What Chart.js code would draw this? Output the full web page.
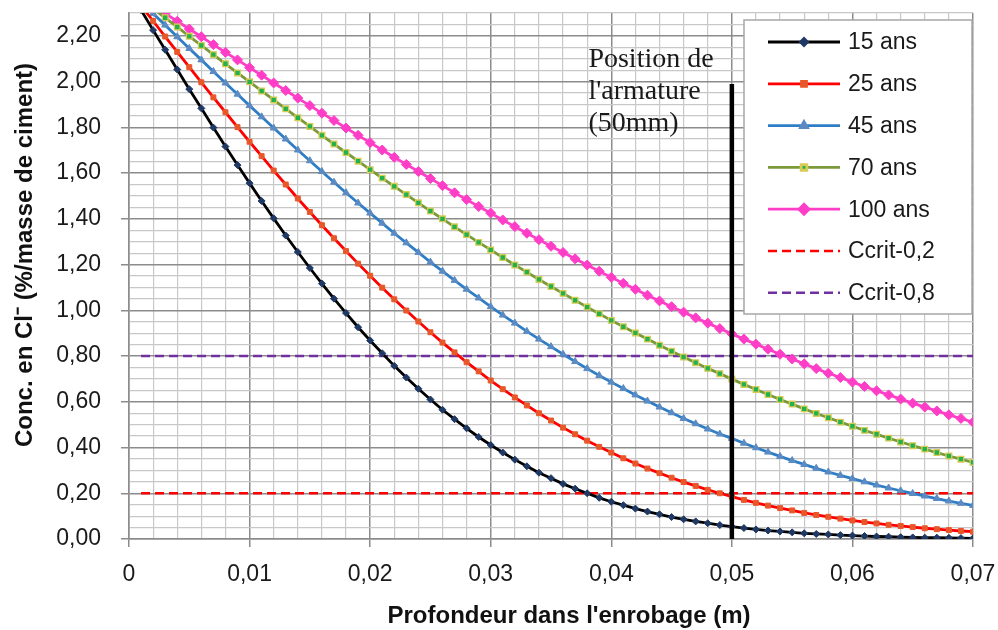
<!DOCTYPE html>
<html>
<head>
<meta charset="utf-8">
<script src="https://cdn.jsdelivr.net/npm/chart.js@4.4.0/dist/chart.umd.min.js"></script>
<style>
html, body { margin: 0; padding: 0; background: #fff; }
#wrap { width: 998px; height: 630px; }
</style>
</head>
<body>
<div id="wrap"><canvas id="myChart" width="998" height="630"></canvas></div>
<script>
// profondeur (m)
var depth = [
  0.000, 0.001, 0.002, 0.003, 0.004, 0.005, 0.006, 0.007, 0.008, 0.009,
  0.010, 0.011, 0.012, 0.013, 0.014, 0.015, 0.016, 0.017, 0.018, 0.019,
  0.020, 0.021, 0.022, 0.023, 0.024, 0.025, 0.026, 0.027, 0.028, 0.029,
  0.030, 0.031, 0.032, 0.033, 0.034, 0.035, 0.036, 0.037, 0.038, 0.039,
  0.040, 0.041, 0.042, 0.043, 0.044, 0.045, 0.046, 0.047, 0.048, 0.049,
  0.050, 0.051, 0.052, 0.053, 0.054, 0.055, 0.056, 0.057, 0.058, 0.059,
  0.060, 0.061, 0.062, 0.063, 0.064, 0.065, 0.066, 0.067, 0.068, 0.069,
  0.070
];

var c15 = [
  2.400, 2.313, 2.225, 2.139, 2.053, 1.967, 1.883, 1.799, 1.716, 1.635,
  1.556, 1.478, 1.402, 1.327, 1.255, 1.185, 1.117, 1.051, 0.988, 0.926,
  0.868, 0.812, 0.757, 0.706, 0.657, 0.610, 0.565, 0.524, 0.484, 0.446,
  0.411, 0.378, 0.347, 0.318, 0.290, 0.266, 0.241, 0.220, 0.200, 0.180,
  0.163, 0.148, 0.133, 0.120, 0.108, 0.096, 0.086, 0.077, 0.069, 0.061,
  0.054, 0.048, 0.042, 0.037, 0.033, 0.029, 0.025, 0.022, 0.020, 0.017,
  0.015, 0.013, 0.011, 0.010, 0.008, 0.007, 0.006, 0.006, 0.005, 0.004,
  0.003
];
var c25 = [
  2.400, 2.332, 2.265, 2.197, 2.130, 2.063, 1.997, 1.931, 1.866, 1.801,
  1.737, 1.674, 1.611, 1.550, 1.489, 1.430, 1.372, 1.315, 1.259, 1.204,
  1.151, 1.099, 1.048, 0.999, 0.951, 0.904, 0.859, 0.816, 0.773, 0.733,
  0.693, 0.655, 0.619, 0.584, 0.550, 0.518, 0.487, 0.458, 0.430, 0.403,
  0.378, 0.353, 0.330, 0.308, 0.288, 0.268, 0.249, 0.232, 0.215, 0.200,
  0.185, 0.171, 0.158, 0.146, 0.135, 0.125, 0.114, 0.105, 0.097, 0.089,
  0.081, 0.074, 0.068, 0.062, 0.057, 0.052, 0.047, 0.043, 0.039, 0.035,
  0.032
];
var c45 = [
  2.400, 2.349, 2.298, 2.247, 2.196, 2.145, 2.095, 2.044, 1.994, 1.945,
  1.895, 1.846, 1.797, 1.749, 1.701, 1.654, 1.607, 1.560, 1.514, 1.469,
  1.425, 1.381, 1.337, 1.295, 1.253, 1.211, 1.171, 1.131, 1.092, 1.054,
  1.016, 0.979, 0.944, 0.908, 0.874, 0.841, 0.808, 0.776, 0.745, 0.715,
  0.686, 0.658, 0.630, 0.603, 0.577, 0.552, 0.527, 0.504, 0.481, 0.459,
  0.440, 0.419, 0.399, 0.380, 0.361, 0.343, 0.326, 0.309, 0.293, 0.278,
  0.264, 0.250, 0.236, 0.223, 0.211, 0.199, 0.188, 0.177, 0.166, 0.156,
  0.147
];
var c70 = [
  2.400, 2.360, 2.319, 2.279, 2.239, 2.198, 2.158, 2.118, 2.078, 2.038,
  1.999, 1.959, 1.920, 1.881, 1.842, 1.804, 1.765, 1.727, 1.690, 1.652,
  1.615, 1.578, 1.542, 1.506, 1.470, 1.434, 1.400, 1.365, 1.331, 1.297,
  1.264, 1.231, 1.198, 1.167, 1.135, 1.104, 1.074, 1.044, 1.014, 0.985,
  0.956, 0.928, 0.901, 0.874, 0.847, 0.821, 0.796, 0.771, 0.746, 0.723,
  0.699, 0.676, 0.654, 0.632, 0.610, 0.590, 0.569, 0.549, 0.530, 0.511,
  0.493, 0.475, 0.458, 0.441, 0.424, 0.408, 0.393, 0.378, 0.363, 0.349,
  0.335
];
var c100 = [
  2.400, 2.366, 2.332, 2.298, 2.264, 2.230, 2.196, 2.162, 2.128, 2.095,
  2.061, 2.028, 1.994, 1.961, 1.928, 1.895, 1.862, 1.830, 1.797, 1.765,
  1.733, 1.701, 1.669, 1.638, 1.607, 1.576, 1.545, 1.514, 1.484, 1.454,
  1.425, 1.395, 1.366, 1.337, 1.309, 1.280, 1.253, 1.225, 1.198, 1.171,
  1.144, 1.118, 1.092, 1.066, 1.041, 1.016, 0.992, 0.967, 0.944, 0.920,
  0.897, 0.874, 0.852, 0.830, 0.808, 0.787, 0.766, 0.745, 0.725, 0.706,
  0.686, 0.667, 0.648, 0.630, 0.612, 0.594, 0.577, 0.560, 0.543, 0.527,
  0.511
];

// seuils critiques
var critX = [0.001, 0.07];
var crit02 = [0.2, 0.2];
var crit08 = [0.8, 0.8];

// position de l'armature
var rebarX = [0.05, 0.05];
var rebarY = [0, 1.99];

var annotLines = ['Position de', "l'armature", '(50mm)'];

function pts(xs, ys) {
  return xs.map(function(x, i) { return {x: x, y: ys[i]}; });
}
function isMult(v, step) {
  var r = v / step;
  return Math.abs(r - Math.round(r)) < 1e-6;
}
function frNum(v, d) {
  return v.toFixed(d).replace('.', ',');
}

var legendBox = {
  id: 'legendBox',
  afterDatasetsDraw: function(chart) {
    var ctx = chart.ctx, a = chart.chartArea;
    var w = 228, h = 294;
    var left = a.right - w - 1, top = a.top + 7;
    ctx.save();
    ctx.fillStyle = '#ffffff';
    ctx.fillRect(left, top, w, h);
    ctx.strokeStyle = '#a6a6a6';
    ctx.lineWidth = 1.5;
    ctx.strokeRect(left, top, w, h);
    var row = 0;
    chart.data.datasets.forEach(function(ds) {
      if (ds.inLegend === false) return;
      var y = top + 22 + row * 41.8;
      ctx.setLineDash(ds.borderDash || []);
      ctx.strokeStyle = ds.borderColor;
      ctx.lineWidth = ds.borderWidth;
      ctx.beginPath();
      ctx.moveTo(left + 24, y);
      ctx.lineTo(left + 96, y);
      ctx.stroke();
      ctx.setLineDash([]);
      if (ds.pointRadius > 0) {
        ctx.fillStyle = ds.pointBackgroundColor;
        ctx.strokeStyle = ds.pointBorderColor;
        Chart.helpers.drawPoint(ctx, {
          pointStyle: ds.pointStyle, radius: ds.pointRadius,
          borderWidth: ds.pointBorderWidth, rotation: 0
        }, left + 60, y);
      }
      ctx.fillStyle = '#1a1a1a';
      ctx.font = '23px "Liberation Sans"';
      ctx.textAlign = 'left';
      ctx.textBaseline = 'middle';
      ctx.fillText(ds.label, left + 104, y + 1);
      row++;
    });
    ctx.restore();
  }
};

var textBits = {
  id: 'textBits',
  afterDraw: function(chart) {
    var ctx = chart.ctx, xs = chart.scales.x, ys = chart.scales.y;
    ctx.save();
    // annotation
    ctx.fillStyle = '#1a1a1a';
    ctx.font = '28px "Liberation Serif"';
    ctx.textAlign = 'left';
    ctx.textBaseline = 'alphabetic';
    var ax = xs.getPixelForValue(0.0381);
    var ay = ys.getPixelForValue(2.065);
    annotLines.forEach(function(t, i) {
      ctx.fillText(t, ax, ay + i * 32);
    });
    // axis titles
    ctx.fillStyle = '#111';
    ctx.font = 'bold 24px "Liberation Sans"';
    ctx.textAlign = 'center';
    ctx.fillText("Profondeur dans l'enrobage (m)", 569, 623);
    ctx.translate(32, 255);
    ctx.rotate(-Math.PI / 2);
    ctx.fillText('Conc. en Cl\u207B (%/masse de ciment)', 0, 0);
    ctx.restore();
  }
};

var ctx = document.getElementById('myChart').getContext('2d');
var myChart = new Chart(ctx, {
  type: 'line',
  data: {
    datasets: [
      {
        label: 'rebar', inLegend: false, order: 0,
        data: pts(rebarX, rebarY),
        borderColor: '#000000', borderWidth: 4.5, pointRadius: 0
      },
      {
        label: '15 ans', order: 1,
        data: pts(depth, c15),
        borderColor: '#000000', borderWidth: 2.8,
        pointStyle: 'rectRot', pointRadius: 3.5,
        pointBackgroundColor: '#1F3864', pointBorderColor: '#1F3864', pointBorderWidth: 1
      },
      {
        label: '25 ans', order: 1,
        data: pts(depth, c25),
        borderColor: '#FF0000', borderWidth: 2.8,
        pointStyle: 'rect', pointRadius: 3.5,
        pointBackgroundColor: '#E8572A', pointBorderColor: '#E8572A', pointBorderWidth: 1
      },
      {
        label: '45 ans', order: 1,
        data: pts(depth, c45),
        borderColor: '#2F7DC4', borderWidth: 2.8,
        pointStyle: 'triangle', pointRadius: 4,
        pointBackgroundColor: '#5B8BC2', pointBorderColor: '#5B8BC2', pointBorderWidth: 1
      },
      {
        label: '70 ans', order: 1,
        data: pts(depth, c70),
        borderColor: '#7A9A3A', borderWidth: 2.8,
        pointStyle: 'rect', pointRadius: 4,
        pointBackgroundColor: '#22B14C', pointBorderColor: '#D9CC55', pointBorderWidth: 1.3
      },
      {
        label: '100 ans', order: 1,
        data: pts(depth, c100),
        borderColor: '#FF3EC8', borderWidth: 2.8,
        pointStyle: 'rectRot', pointRadius: 5,
        pointBackgroundColor: '#FF3EC8', pointBorderColor: '#FF3EC8', pointBorderWidth: 1
      },
      {
        label: 'Ccrit-0,2', order: 2,
        data: pts(critX, crit02),
        borderColor: '#FF0000', borderWidth: 2.5, borderDash: [9, 5], pointRadius: 0
      },
      {
        label: 'Ccrit-0,8', order: 2,
        data: pts(critX, crit08),
        borderColor: '#7030A0', borderWidth: 2.5, borderDash: [9, 5], pointRadius: 0
      }
    ]
  },
  options: {
    responsive: false,
    animation: false,
    events: [],
    layout: { padding: { left: 0, top: 13, right: 25, bottom: 0 } },
    elements: { line: { tension: 0 } },
    plugins: {
      legend: { display: false },
      tooltip: { enabled: false }
    },
    scales: {
      x: {
        type: 'linear',
        min: 0, max: 0.07,
        afterFit: function(s) { s.height = 91; s.paddingLeft = 0; s.paddingRight = 0; },
        border: { color: '#8c8c8c', width: 1.5 },
        grid: {
          color: function(c) { return isMult(c.tick.value, 0.01) ? '#8c8c8c' : '#c8c8c8'; },
          lineWidth: function(c) { return isMult(c.tick.value, 0.01) ? 1.5 : 1.2; },
          tickColor: function(c) { return isMult(c.tick.value, 0.01) ? '#8c8c8c' : 'rgba(0,0,0,0)'; },
          tickLength: 8
        },
        ticks: {
          stepSize: 0.002,
          autoSkip: false,
          maxRotation: 0,
          padding: 14,
          color: '#1a1a1a',
          font: { family: 'Liberation Sans', size: 23 },
          callback: function(v) {
            if (!isMult(v, 0.01)) return '';
            return v === 0 ? '0' : frNum(v, 2);
          }
        }
      },
      y: {
        min: 0, max: 2.3,
        afterFit: function(s) { s.width = 129; s.paddingTop = 0; s.paddingBottom = 0; },
        border: { color: '#8c8c8c', width: 1.5 },
        grid: {
          color: function(c) { return isMult(c.tick.value, 0.2) ? '#8c8c8c' : '#c8c8c8'; },
          lineWidth: function(c) { return isMult(c.tick.value, 0.2) ? 1.5 : 1.2; },
          tickColor: function(c) { return isMult(c.tick.value, 0.2) ? '#8c8c8c' : 'rgba(0,0,0,0)'; },
          tickLength: 8
        },
        ticks: {
          stepSize: 0.05,
          autoSkip: false,
          padding: 20,
          color: '#1a1a1a',
          font: { family: 'Liberation Sans', size: 23 },
          callback: function(v) {
            return isMult(v, 0.2) ? frNum(v, 2) : '';
          }
        }
      }
    }
  },
  plugins: [legendBox, textBits]
});
</script>
</body>
</html>
